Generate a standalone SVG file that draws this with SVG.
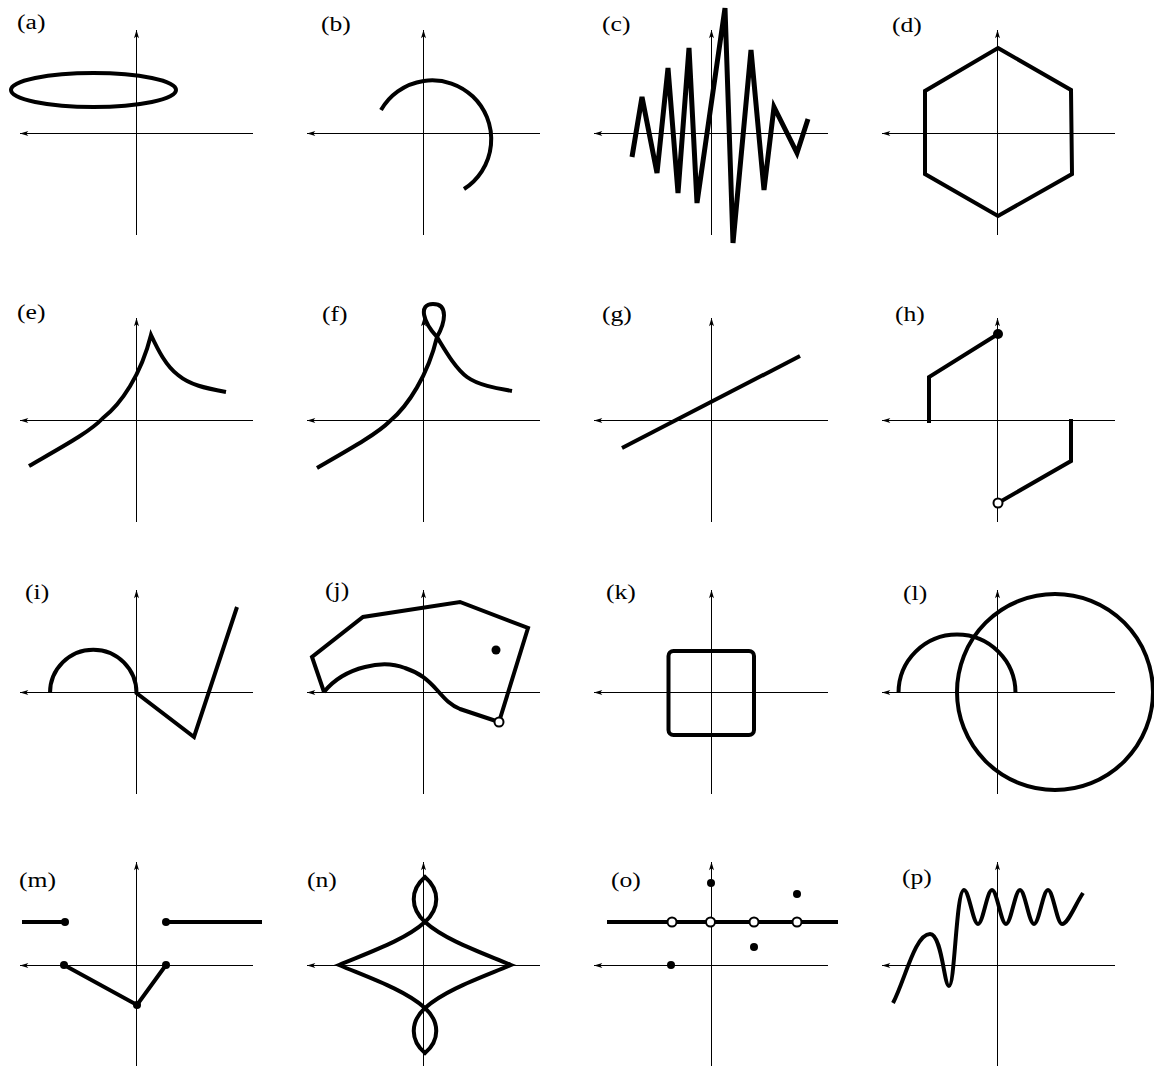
<svg xmlns="http://www.w3.org/2000/svg" width="1154" height="1070" viewBox="0 0 1154 1070">
<style>
.ax{stroke:#000;stroke-width:1;fill:none;marker-start:url(#ah);marker-end:url(#ah)}
.c{stroke:#000;stroke-width:4;fill:none}
.lbl{font-family:"Liberation Serif","Times New Roman",serif;font-size:20.5px;fill:#000}
.dot{fill:#000}
.open{fill:#fff;stroke:#000;stroke-width:2}
</style>
<defs>
<marker id="ah" viewBox="0 0 10 6" refX="10" refY="3" markerWidth="9" markerHeight="5" markerUnits="userSpaceOnUse" orient="auto-start-reverse">
<path d="M0,0 L10,3 L0,6 L2.5,3 z" fill="#000"/>
</marker>
</defs>
<rect width="1154" height="1070" fill="#fff"/>

<g id="panel-a">
<path class="ax" d="M20,133.5 H253 M136.5,235 V30"/>
<ellipse class="c" cx="93.5" cy="90" rx="82.5" ry="17"/>
<text class="lbl" transform="translate(17,29) scale(1.25,1)">(a)</text>
</g>
<g id="panel-b">
<path class="ax" d="M307,133.5 H540 M423.5,235 V30"/>
<path class="c" d="M381,110 A59,59 0 1 1 464,189"/>
<text class="lbl" transform="translate(321,31) scale(1.25,1)">(b)</text>
</g>
<g id="panel-c">
<path class="ax" d="M594,133.5 H828 M711.5,235 V30"/>
<polyline class="c" style="stroke-width:5" points="632,157 642,97 657,173 668,68 678,193 689,48 697,203 725,8 733,243 751,50 764,190 774,107 797,153 808,119"/>
<text class="lbl" transform="translate(602,31) scale(1.25,1)">(c)</text>
</g>
<g id="panel-d">
<path class="ax" d="M882,133.5 H1115 M997.5,235 V30"/>
<polygon class="c" points="998,48 1071,90 1072,174 998,216 925,174 925,91"/>
<text class="lbl" transform="translate(892,32) scale(1.25,1)">(d)</text>
</g>

<g id="panel-e">
<path class="ax" d="M20,420.5 H253 M136.5,522 V318"/>
<path class="c" d="M29,466 C62,447 90,432 103,418 C121,404 141,375 151,335 C158,350 166,366 178,375 C190,385 205,388 226,392"/>
<text class="lbl" transform="translate(17,319) scale(1.25,1)">(e)</text>
</g>
<g id="panel-f">
<path class="ax" d="M307,420.5 H540 M423.5,522 V318"/>
<path class="c" d="M317,468 C350,449 377,434 390,421 C408,406 428,375 437,337 C445,323 449,304 433,304 C418,304 423,322 437,337 C445,350 455,368 467,377 C478,385 495,388 512,391"/>
<text class="lbl" transform="translate(322,321) scale(1.25,1)">(f)</text>
</g>
<g id="panel-g">
<path class="ax" d="M594,420.5 H828 M711.5,522 V318"/>
<path class="c" d="M622,448 L800,356"/>
<text class="lbl" transform="translate(602,321) scale(1.25,1)">(g)</text>
</g>
<g id="panel-h">
<path class="ax" d="M882,420.5 H1115 M997.5,522 V318"/>
<path class="c" d="M929,423 V377 L998,334"/>
<path class="c" d="M998,503 L1071,461 V419"/>
<circle class="dot" cx="998" cy="334" r="5"/>
<circle class="open" cx="998" cy="503" r="4.5"/>
<text class="lbl" transform="translate(895,321) scale(1.25,1)">(h)</text>
</g>

<g id="panel-i">
<path class="ax" d="M20,692.5 H253 M136.5,794 V590"/>
<path class="c" d="M50,693 A43.25,43.25 0 0 1 136.5,693 L194,737 L237,607"/>
<text class="lbl" transform="translate(25,599) scale(1.25,1)">(i)</text>
</g>
<g id="panel-j">
<path class="ax" d="M307,692.5 H540 M423.5,794 V590"/>
<path class="c" d="M324,692 L312,657 L363,617 L460,602 L528,628 L499,722"/>
<path class="c" d="M324,692 C332,682 345,672 365,667 C380,663 392,663 405,668 C420,673 428,680 437,690 C445,699 450,705 460,709 L499,722"/>
<circle class="dot" cx="496" cy="650" r="4.5"/>
<circle class="open" cx="499" cy="722" r="4.5"/>
<text class="lbl" transform="translate(325,597) scale(1.25,1)">(j)</text>
</g>
<g id="panel-k">
<path class="ax" d="M594,692.5 H828 M711.5,794 V590"/>
<rect class="c" x="668.5" y="651" width="85.5" height="84" rx="5"/>
<text class="lbl" transform="translate(606,599) scale(1.25,1)">(k)</text>
</g>
<g id="panel-l">
<path class="ax" d="M882,692.5 H1115 M997.5,794 V590"/>
<path class="c" d="M898.5,693 A58.5,58.5 0 0 1 1015.5,693"/>
<circle class="c" cx="1055" cy="692" r="98"/>
<text class="lbl" transform="translate(903,600) scale(1.25,1)">(l)</text>
</g>

<g id="panel-m">
<path class="ax" d="M20,965.5 H253 M136.5,1066 V862"/>
<path class="c" d="M22,922 H65 M166,922 H262 M64,965 L137,1005 L166,965"/>
<circle class="dot" cx="65" cy="922" r="4"/>
<circle class="dot" cx="166" cy="922" r="4"/>
<circle class="dot" cx="64" cy="965" r="4"/>
<circle class="dot" cx="137" cy="1005" r="4"/>
<circle class="dot" cx="166" cy="965" r="4"/>
<text class="lbl" transform="translate(19,887) scale(1.25,1)">(m)</text>
</g>
<g id="panel-n">
<path class="ax" d="M307,965.5 H540 M423.5,1066 V862"/>
<path class="c" d="M339,965 C370,952 405,940 425,922 C440,908 440,890 425,877 C410,890 410,908 425,922 C445,940 480,952 511,965 C480,978 445,990 425,1008 C410,1022 410,1040 425,1053 C440,1040 440,1022 425,1008 C405,990 370,978 339,965 Z"/>
<text class="lbl" transform="translate(307,887) scale(1.25,1)">(n)</text>
</g>
<g id="panel-o">
<path class="ax" d="M594,965.5 H828 M711.5,1066 V862"/>
<path class="c" d="M607,922 H838"/>
<circle class="open" cx="672" cy="922" r="4.5"/>
<circle class="open" cx="710.5" cy="922" r="4.5"/>
<circle class="open" cx="754" cy="922" r="4.5"/>
<circle class="open" cx="797" cy="922" r="4.5"/>
<circle class="dot" cx="711" cy="883" r="4"/>
<circle class="dot" cx="797" cy="894" r="4"/>
<circle class="dot" cx="754" cy="947" r="4"/>
<circle class="dot" cx="671" cy="965" r="4"/>
<text class="lbl" transform="translate(611,887) scale(1.25,1)">(o)</text>
</g>
<g id="panel-p">
<path class="ax" d="M882,965.5 H1115 M997.5,1066 V862"/>
<path class="c" d="M893,1003 C905,980 915,934 930,934 C942,934 944,986 949,986 C955,986 956,890 964,890 C969,890 973,924 978,924 C983,924 987,890 992,890 C997,890 1001,924 1006,924 C1011,924 1015,890 1020,890 C1025,890 1029,924 1034,924 C1039,924 1043,890 1048,890 C1053,890 1057,924 1062,924 C1068,924 1075,905 1083,893"/>
<text class="lbl" transform="translate(902,884) scale(1.25,1)">(p)</text>
</g>
</svg>
